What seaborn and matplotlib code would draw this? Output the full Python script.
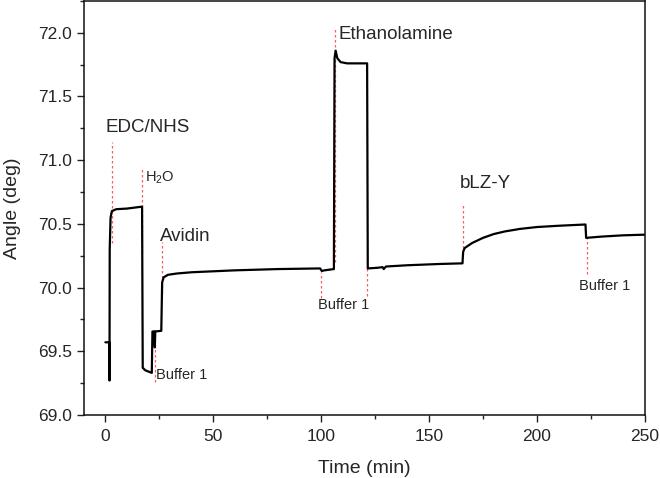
import matplotlib
matplotlib.use("Agg")
import pandas as pd
import seaborn as sns
from matplotlib import pyplot as plt
from matplotlib.ticker import MultipleLocator

# sensorgram
time_min = [0, 1.8, 1.9, 2.0, 2.4, 3.0, 5, 10, 17.0, 17.3, 18.5, 21.5, 21.8, 22.7,
            22.9, 23.1, 25.9, 26.3, 27, 29, 33, 40, 60, 80, 99.5, 100.3, 101.5,
            105.9, 106.2, 106.7, 107.5, 109, 112, 121.3, 121.6, 126, 128.5, 129,
            130, 140, 155, 165.5, 165.8, 166.5, 170, 175, 180, 185, 192, 200,
            210, 222.5, 222.8, 230, 240, 250]
angle_deg = [69.57, 69.57, 69.27, 70.30, 70.55, 70.60, 70.615, 70.62, 70.635, 69.37,
             69.35, 69.33, 69.655, 69.655, 69.53, 69.655, 69.66, 70.04, 70.08, 70.10,
             70.11, 70.12, 70.135, 70.145, 70.15, 70.13, 70.135, 70.145, 71.80,
             71.86, 71.80, 71.77, 71.76, 71.76, 70.15, 70.155, 70.16, 70.145,
             70.165, 70.175, 70.185, 70.19, 70.28, 70.31, 70.35, 70.39, 70.42,
             70.44, 70.46, 70.475, 70.485, 70.495, 70.39, 70.40, 70.41, 70.415]

# injection markers
event_x = [3.2, 17.0, 22.8, 26.3, 99.8, 106.4, 121.4, 165.6, 223.0]
event_ymin = [70.35, 70.28, 69.26, 69.96, 69.92, 70.20, 69.93, 70.31, 70.11]
event_ymax = [71.14, 70.94, 69.67, 70.36, 70.12, 72.03, 70.15, 70.65, 70.39]

big_labels = ["EDC/NHS", "Avidin", "Ethanolamine", "bLZ-Y"]
big_x = [0.0, 25.5, 108.0, 164.4]
big_y = [71.26, 70.40, 71.99, 70.82]

small_labels = ["H$_2$O", "Buffer 1", "Buffer 1", "Buffer 1"]
small_x = [18.2, 23.3, 98.6, 219.5]
small_y = [70.86, 69.31, 69.86, 70.01]


def plot_sensorgram(file_name):
    sns.set_style("ticks")
    plt.rcParams["font.family"] = ["Liberation Sans", "DejaVu Sans"]
    plt.rcParams["mathtext.fontset"] = "custom"
    plt.rcParams["mathtext.rm"] = "Liberation Sans"
    fig = plt.figure(figsize=(6.6, 4.78), dpi=100)
    ax = fig.add_axes([0.127, 0.132, 0.85, 0.866])

    df = pd.DataFrame({"time": time_min, "angle": angle_deg})
    ax.vlines(event_x, event_ymin, event_ymax, colors="#ff5a5a",
              linestyles=(0, (2, 2)), linewidth=0.9, zorder=1)
    sns.lineplot(x="time", y="angle", data=df, ax=ax, color="black",
                 linewidth=1.6, estimator=None, sort=False, zorder=2)

    for t, x, y in zip(big_labels, big_x, big_y):
        ax.text(x, y, t, fontsize=13.5, va="center", ha="left")
    for t, x, y in zip(small_labels, small_x, small_y):
        ax.text(x, y, t, fontsize=10.5, va="center", ha="left")

    ax.set_xlim(-10, 250)
    ax.set_ylim(69.0, 72.25)
    ax.xaxis.set_major_locator(MultipleLocator(50))
    ax.xaxis.set_minor_locator(MultipleLocator(25))
    ax.yaxis.set_major_locator(MultipleLocator(0.5))
    ax.yaxis.set_minor_locator(MultipleLocator(0.25))
    ax.yaxis.set_major_formatter(plt.FormatStrFormatter("%.1f"))
    ax.tick_params(which="major", direction="out", length=5, width=1,
                   labelsize=12.5, color="#222222")
    ax.tick_params(axis="x", which="major", pad=5)
    ax.tick_params(which="minor", direction="out", length=3, width=1,
                   color="#222222")
    for s in ax.spines.values():
        s.set_visible(True)
        s.set_linewidth(1.1)
        s.set_color("#111111")

    ax.set_xlabel("Time (min)", fontsize=14, labelpad=12)
    ax.set_ylabel("Angle (deg)", fontsize=14, labelpad=12)
    fig.savefig(file_name, dpi=100)


def main():
    plot_sensorgram("out.png")


if __name__ == "__main__":
    main()
